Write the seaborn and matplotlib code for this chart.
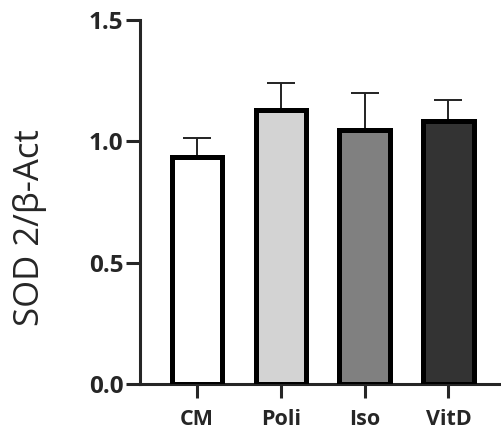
import matplotlib
matplotlib.use("Agg")
import matplotlib.pyplot as plt
import seaborn as sns
import pandas as pd

groups = ["CM", "Poli", "Iso", "VitD"]
means = [0.935, 1.13, 1.045, 1.085]
errors = [0.08, 0.11, 0.155, 0.085]
colors = ["#ffffff", "#d3d3d3", "#808080", "#333333"]

sns.set_style("ticks")
plt.rcParams['font.family'] = ['Open Sans', 'DejaVu Sans']

df = pd.DataFrame({"group": groups, "value": means})

fig = plt.figure(figsize=(5.02, 4.34), dpi=100)
ax = fig.add_axes([0.279, 0.115, 0.721, 0.839])

sns.barplot(data=df, x="group", y="value", hue="group", palette=colors,
            width=0.6, edgecolor="black", linewidth=3.6, legend=False,
            errorbar=None, ax=ax, zorder=3)
ax.errorbar(range(len(groups)), means, yerr=[[0] * len(groups), errors],
            fmt="none", ecolor="#222222", elinewidth=1.4, capsize=10,
            capthick=1.4, zorder=2)

ax.set_ylim(0, 1.5)
ax.set_xlim(-0.68, 3.64)
ax.set_yticks([0.0, 0.5, 1.0, 1.5])
ax.set_yticklabels(["0.0", "0.5", "1.0", "1.5"])
ax.set_xlabel("")
ax.set_ylabel("SOD 2/β-Act", fontsize=25)
ax.yaxis.set_label_coords(-0.258, 0.43)
sns.despine(ax=ax)
for s in ["left", "bottom"]:
    ax.spines[s].set_linewidth(2.2)
ax.tick_params(axis="y", width=2.2, length=10, pad=2, labelsize=17.5)
ax.tick_params(axis="x", width=2.2, length=10, pad=8, labelsize=15.5)
for lbl in ax.get_xticklabels() + ax.get_yticklabels():
    lbl.set_fontweight("bold")

fig.savefig("out.png", dpi=100)
